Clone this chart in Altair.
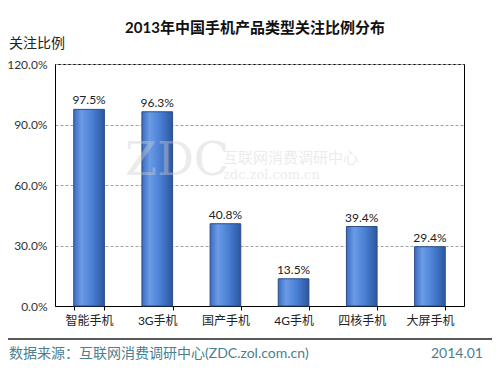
import altair as alt
import pandas as pd

categories = ["智能手机", "3G手机", "国产手机", "4G手机", "四核手机", "大屏手机"]
values = [97.5, 96.3, 40.8, 13.5, 39.4, 29.4]
labels = ["97.5%", "96.3%", "40.8%", "13.5%", "39.4%", "29.4%"]
y_ticks = [0, 30, 60, 90, 120]

title_text = "2013年中国手机产品类型关注比例分布"
ytitle_text = "关注比例"
source_text = "数据来源：互联网消费调研中心(ZDC.zol.com.cn)"
date_text = "2014.01"

FONT = "Lato, 'Noto Sans CJK SC', sans-serif"

df = pd.DataFrame({"cat": categories, "val": values, "label": labels})
one = lambda s: alt.Chart(pd.DataFrame({"t": [s]}))

x = alt.X(
    "cat:N", sort=categories, title=None,
    scale=alt.Scale(paddingInner=0.55, paddingOuter=0.275),
    axis=alt.Axis(labelAngle=0, labelFontSize=12, labelColor="#222", labelPadding=5,
                  tickBand="extent", tickSize=4, tickColor="#000", domainColor="#000",
                  labelFont=FONT),
)
y = alt.Y(
    "val:Q", title=None,
    scale=alt.Scale(domain=[0, 120], nice=False),
    axis=alt.Axis(values=y_ticks, labelExpr="format(datum.value,'.1f')+'%'",
                  grid=True, gridDash=[3, 2], gridColor="#a0a0a0", ticks=False,
                  domainColor="#000", labelPadding=8, labelFontSize=12,
                  labelColor="#333", labelFont=FONT, labelFlush=False),
)

grad = alt.Gradient(
    gradient="linear",
    stops=[alt.GradientStop(color="#3a6cc0", offset=0),
           alt.GradientStop(color="#6b9be6", offset=0.25),
           alt.GradientStop(color="#4a7fd4", offset=0.6),
           alt.GradientStop(color="#2c579f", offset=1)],
    x1=0, x2=1, y1=0, y2=0,
)

bars = alt.Chart(df).mark_bar(color=grad, stroke="#2a4d88", strokeWidth=1).encode(x=x, y=y)
blabels = alt.Chart(df).mark_text(baseline="bottom", dy=-2, fontSize=12, color="#222",
                                  font=FONT).encode(
    x=alt.X("cat:N", sort=categories), y="val:Q", text="label:N")

wm1 = one("ZDC").mark_text(fontSize=46, font="DejaVu Serif", color="#cfcfcf",
                           opacity=0.4, align="center", baseline="middle").encode(
    x=alt.value(122), y=alt.value(97), text="t:N")
wm2 = one("互联网消费调研中心").mark_text(fontSize=15, font=FONT, color="#cfcfcf",
                                 opacity=0.4, align="left", baseline="middle").encode(
    x=alt.value(168), y=alt.value(94), text="t:N")
wm3 = one("zdc.zol.com.cn").mark_text(fontSize=13, font="DejaVu Serif", color="#cfcfcf",
                                      opacity=0.4, align="left", baseline="middle").encode(
    x=alt.value(168), y=alt.value(111), text="t:N")

title = one(title_text).mark_text(fontSize=15, fontWeight="bold", font=FONT, color="#111",
                                  align="center", baseline="middle").encode(
    x=alt.value(200), y=alt.value(-36), text="t:N")
ytitle = one(ytitle_text).mark_text(fontSize=14, font=FONT, color="#222",
                                    align="left", baseline="middle").encode(
    x=alt.value(-46), y=alt.value(-20), text="t:N")
rule = one("r").mark_rule(color="#222", strokeWidth=1.5).encode(
    x=alt.value(-47), x2=alt.value(437), y=alt.value(275))
src = one(source_text).mark_text(fontSize=14, font=FONT, color="#4a7f8f",
                                 align="left", baseline="middle").encode(
    x=alt.value(-46), y=alt.value(290), text="t:N")
date = one(date_text).mark_text(fontSize=14, font=FONT, color="#4a7f8f",
                                align="right", baseline="middle").encode(
    x=alt.value(428), y=alt.value(290), text="t:N")

chart = alt.layer(bars, blabels, wm1, wm2, wm3, title, ytitle, rule, src, date).properties(
    width=409, height=242,
    autosize=alt.AutoSizeParams(type="none"),
    padding={"left": 47, "top": 56, "right": 28, "bottom": 61},
    background="white",
).configure_view(stroke="#000", strokeWidth=1)

chart.save("out.html", embed_options={"renderer": "svg", "actions": False})
